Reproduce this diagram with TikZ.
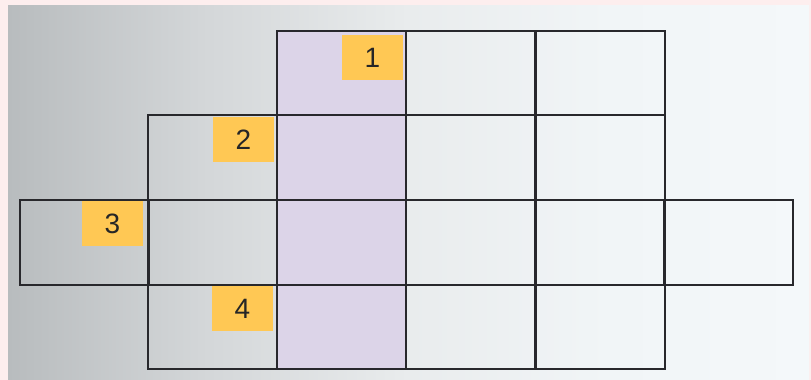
\documentclass[tikz,border=0pt]{standalone}
\usepackage{fontspec}
\setmainfont{Liberation Sans}
\definecolor{pinkbg}{RGB}{253,238,238}
\definecolor{gA}{RGB}{184,188,190}
\definecolor{gB}{RGB}{212,215,217}
\definecolor{gC}{RGB}{233,236,237}
\definecolor{gD}{RGB}{241,245,247}
\definecolor{gE}{RGB}{244,248,250}
\definecolor{lilac}{RGB}{220,212,232}
\definecolor{tag}{RGB}{255,200,84}
\definecolor{gridline}{RGB}{40,40,44}
\pgfdeclarehorizontalshading{bgshade}{100bp}{color(0bp)=(gA); color(25bp)=(gA); color(37.5bp)=(gB); color(50bp)=(gC); color(62.5bp)=(gD); color(75bp)=(gE); color(100bp)=(gE)}
\begin{document}
\begin{tikzpicture}[x=1pt,y=-1pt,
  cell/.style={draw=gridline,line width=1.9pt},
  tagbox/.style={fill=tag,inner sep=0pt,minimum width=61pt,minimum height=45pt,
    anchor=north east,font=\fontsize{28}{30}\selectfont,text=black!85}]
\useasboundingbox (0,0) rectangle (811,380);
\fill[pinkbg] (0,0) rectangle (811,380);
\shade[shading=bgshade] (8,5) rectangle (809,380);
% purple column
\fill[lilac] (277,31) rectangle (406,369);
% row 1
\foreach \x in {277,406,536}{\draw[cell] (\x,31) rectangle ++(129,84);}
% row 2
\foreach \x in {148,277,406,536}{\draw[cell] (\x,115) rectangle ++(129,85);}
% row 3
\foreach \x in {20,148,277,406,536,664}{\draw[cell] (\x,200) rectangle ++(129,85);}
% row 4
\foreach \x in {148,277,406,536}{\draw[cell] (\x,285) rectangle ++(129,84);}
% tags
\node[tagbox] (t1) at (403,35) {1};
\node[tagbox] (t2) at (274,117) {2};
\node[tagbox] (t3) at (143,201) {3};
\node[tagbox] (t4) at (273,286) {4};
\end{tikzpicture}
\end{document}
